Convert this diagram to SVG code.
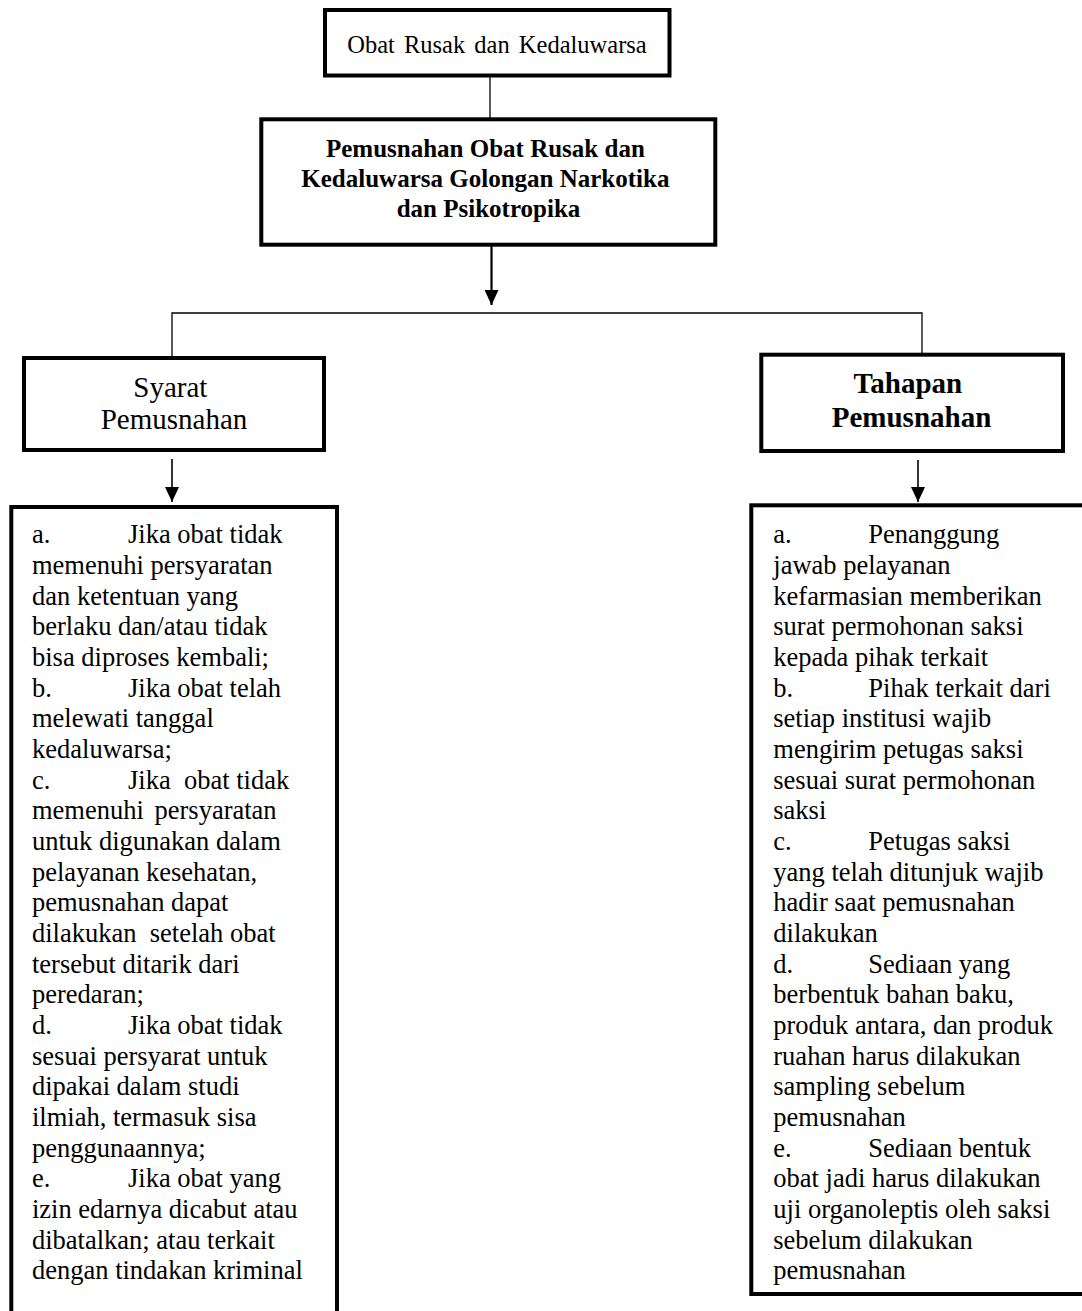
<svg xmlns="http://www.w3.org/2000/svg" width="1082" height="1311" viewBox="0 0 1082 1311">
<style>
  .box{fill:#fff;stroke:#000;stroke-width:4}
  .t{font-family:"Liberation Serif","Times New Roman",serif;fill:#000}
  .c{text-anchor:middle}
  .b{font-weight:bold}
  .list{font-size:26.5px}
  .thin{stroke:#000;stroke-width:1.3;fill:none}
  .arr{stroke:#000;fill:none;marker-end:url(#ah)}
</style>
<defs>
  <marker id="ah" markerUnits="userSpaceOnUse" markerWidth="15" markerHeight="14" viewBox="0 0 15 14" refX="15" refY="7" orient="auto">
    <path d="M0,0 L15,7 L0,14 Z" fill="#000"/>
  </marker>
</defs>
<rect width="1082" height="1311" fill="#fff"/>
<g id="connectors">
  <line class="thin" x1="490" y1="77" x2="490" y2="118"/>
  <line class="arr" x1="491.5" y1="246" x2="491.5" y2="305" stroke-width="2.2"/>
  <polyline class="thin" points="172,356 172,313 922,313 922,353"/>
  <line class="arr" x1="172" y1="459" x2="172" y2="502" stroke-width="1.6"/>
  <line class="arr" x1="918" y1="460" x2="918" y2="502" stroke-width="1.6"/>
</g>
<g id="node-top">
  <rect class="box" x="325" y="10" width="344.5" height="65.5"/>
  <text class="t c" x="497" y="53" font-size="24.5" word-spacing="3">Obat Rusak dan Kedaluwarsa</text>
</g>
<g id="node-main">
  <rect class="box" x="261.3" y="119.3" width="454" height="125.4"/>
  <text class="t c b" font-size="25">
    <tspan x="488.5" y="156.7">Pemusnahan Obat Rusak dan</tspan>
    <tspan x="488.5" y="187">Kedaluwarsa Golongan Narkotika</tspan>
    <tspan x="488.5" y="216.5">dan Psikotropika</tspan>
  </text>
</g>
<g id="node-syarat">
  <rect class="box" x="24" y="358" width="300" height="92"/>
  <text class="t c" font-size="29">
    <tspan x="174" y="397">Syarat</tspan>
    <tspan x="174" y="429">Pemusnahan</tspan>
  </text>
</g>
<g id="node-tahapan">
  <rect class="box" x="761.3" y="354.7" width="301.7" height="96.3"/>
  <text class="t c b" font-size="29">
    <tspan x="911.5" y="393">Tahapan</tspan>
    <tspan x="911.5" y="427">Pemusnahan</tspan>
  </text>
</g>
<g id="node-syarat-list">
  <rect class="box" x="11.3" y="507" width="325.7" height="900"/>
  <text class="t list">
    <tspan x="32" y="543.3">a.</tspan><tspan x="128" y="543.3">Jika obat tidak</tspan>
    <tspan x="32" y="574">memenuhi persyaratan</tspan>
    <tspan x="32" y="604.6">dan ketentuan yang</tspan>
    <tspan x="32" y="635.3">berlaku dan/atau tidak</tspan>
    <tspan x="32" y="666">bisa diproses kembali;</tspan>
    <tspan x="32" y="696.6">b.</tspan><tspan x="128" y="696.6">Jika obat telah</tspan>
    <tspan x="32" y="727.3">melewati tanggal</tspan>
    <tspan x="32" y="758">kedaluwarsa;</tspan>
    <tspan x="32" y="788.7">c.</tspan><tspan x="128" y="788.7" xml:space="preserve">Jika  obat tidak</tspan>
    <tspan x="32" y="819.3" word-spacing="4">memenuhi persyaratan</tspan>
    <tspan x="32" y="850">untuk digunakan dalam</tspan>
    <tspan x="32" y="880.7">pelayanan kesehatan,</tspan>
    <tspan x="32" y="911.3">pemusnahan dapat</tspan>
    <tspan x="32" y="942" xml:space="preserve">dilakukan  setelah obat</tspan>
    <tspan x="32" y="972.7">tersebut ditarik dari</tspan>
    <tspan x="32" y="1003.3">peredaran;</tspan>
    <tspan x="32" y="1034">d.</tspan><tspan x="128" y="1034">Jika obat tidak</tspan>
    <tspan x="32" y="1064.7">sesuai persyarat untuk</tspan>
    <tspan x="32" y="1095.3">dipakai dalam studi</tspan>
    <tspan x="32" y="1126">ilmiah, termasuk sisa</tspan>
    <tspan x="32" y="1156.7">penggunaannya;</tspan>
    <tspan x="32" y="1187.3">e.</tspan><tspan x="128" y="1187.3">Jika obat yang</tspan>
    <tspan x="32" y="1218">izin edarnya dicabut atau</tspan>
    <tspan x="32" y="1248.7">dibatalkan; atau terkait</tspan>
    <tspan x="32" y="1279.3">dengan tindakan kriminal</tspan>
  </text>
</g>
<g id="node-tahapan-list">
  <rect class="box" x="751.3" y="505.3" width="400" height="788.7"/>
  <text class="t list">
    <tspan x="773.3" y="543.3">a.</tspan><tspan x="868.3" y="543.3">Penanggung</tspan>
    <tspan x="773.3" y="574">jawab pelayanan</tspan>
    <tspan x="773.3" y="604.6">kefarmasian memberikan</tspan>
    <tspan x="773.3" y="635.3">surat permohonan saksi</tspan>
    <tspan x="773.3" y="666">kepada pihak terkait</tspan>
    <tspan x="773.3" y="696.6">b.</tspan><tspan x="868.3" y="696.6">Pihak terkait dari</tspan>
    <tspan x="773.3" y="727.3">setiap institusi wajib</tspan>
    <tspan x="773.3" y="758">mengirim petugas saksi</tspan>
    <tspan x="773.3" y="788.7">sesuai surat permohonan</tspan>
    <tspan x="773.3" y="819.3">saksi</tspan>
    <tspan x="773.3" y="850">c.</tspan><tspan x="868.3" y="850">Petugas saksi</tspan>
    <tspan x="773.3" y="880.7">yang telah ditunjuk wajib</tspan>
    <tspan x="773.3" y="911.3">hadir saat pemusnahan</tspan>
    <tspan x="773.3" y="942">dilakukan</tspan>
    <tspan x="773.3" y="972.7">d.</tspan><tspan x="868.3" y="972.7">Sediaan yang</tspan>
    <tspan x="773.3" y="1003.3">berbentuk bahan baku,</tspan>
    <tspan x="773.3" y="1034">produk antara, dan produk</tspan>
    <tspan x="773.3" y="1064.7">ruahan harus dilakukan</tspan>
    <tspan x="773.3" y="1095.3">sampling sebelum</tspan>
    <tspan x="773.3" y="1126">pemusnahan</tspan>
    <tspan x="773.3" y="1156.7">e.</tspan><tspan x="868.3" y="1156.7">Sediaan bentuk</tspan>
    <tspan x="773.3" y="1187.3">obat jadi harus dilakukan</tspan>
    <tspan x="773.3" y="1218">uji organoleptis oleh saksi</tspan>
    <tspan x="773.3" y="1248.7">sebelum dilakukan</tspan>
    <tspan x="773.3" y="1279.3">pemusnahan</tspan>
  </text>
</g>
</svg>
